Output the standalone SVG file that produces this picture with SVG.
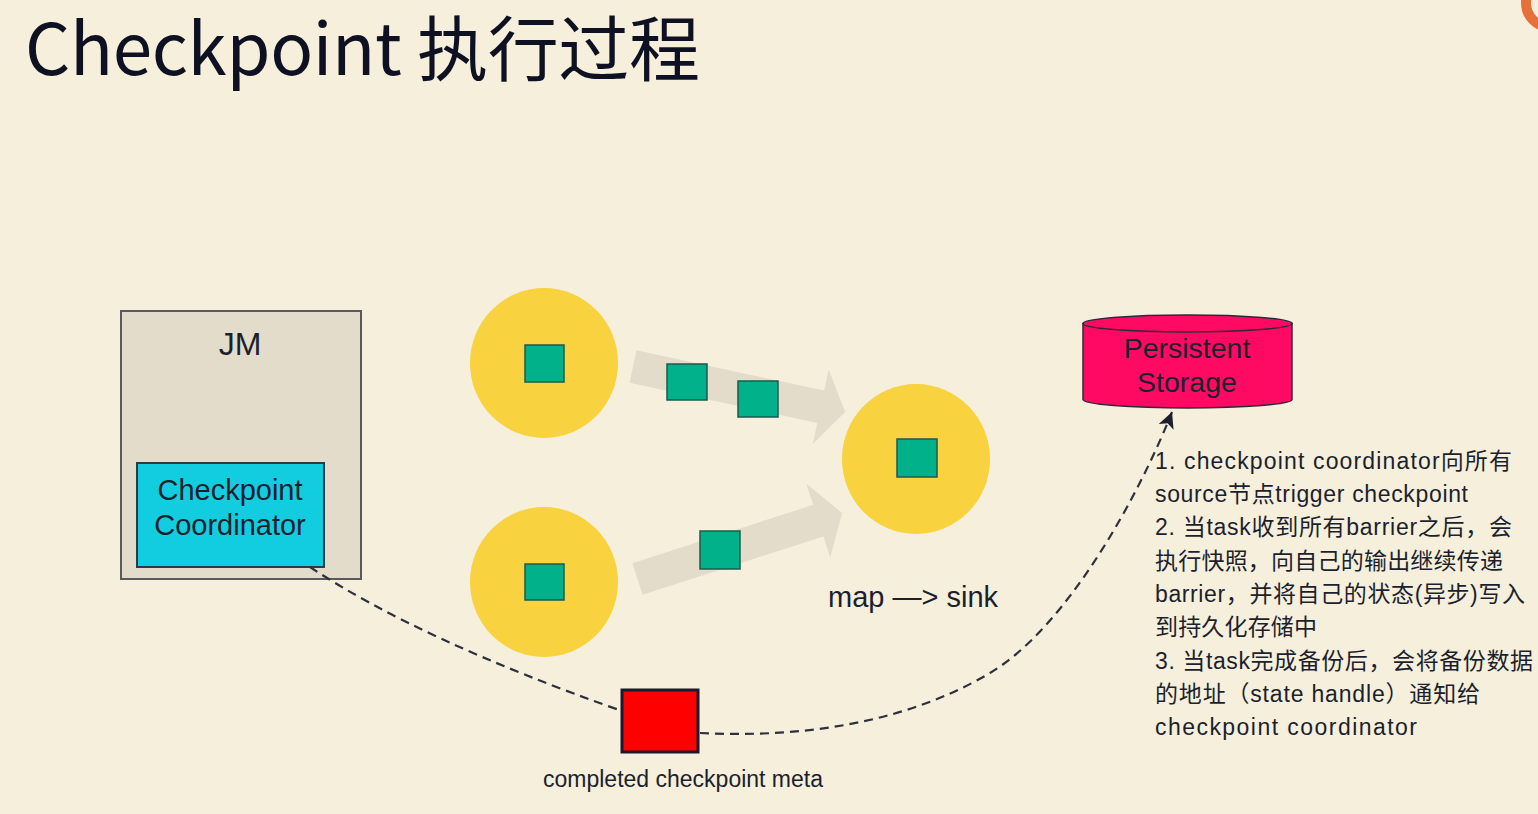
<svg xmlns="http://www.w3.org/2000/svg" width="1538" height="814" viewBox="0 0 1538 814">
  <style>
    .sans { font-family: "Liberation Sans", "Noto Sans CJK SC", sans-serif; fill: #1c1f2e; }
    .title { font-family: "Noto Sans CJK SC", "Noto Sans", sans-serif; fill: #0d1121; font-size: 71px; }
    .task { fill: #f8d23f; }
    .rec { fill: #00b18a; stroke: #1d5a4c; stroke-width: 1.5; }
    .flow { fill: #e3dccb; }
    .link { fill: none; stroke: #2e313c; stroke-width: 2.2; stroke-dasharray: 9 6; }
    .note { font-size: 23px; }
  </style>
  <defs>
    <marker id="head" markerUnits="userSpaceOnUse" markerWidth="18" markerHeight="16" refX="16" refY="8" orient="auto">
      <path d="M0,0 L16,8 L0,16 L4,8 Z" fill="#1c1f2e"/>
    </marker>
  </defs>

  <rect x="0" y="0" width="1538" height="814" fill="#f5efdc"/>

  <!-- corner ornament -->
  <circle cx="1550" cy="3" r="24" fill="none" stroke="#e6703a" stroke-width="10"/>

  <text class="title" x="25" y="75" textLength="675">Checkpoint 执行过程</text>

  <!-- job manager -->
  <g id="jm">
    <rect x="121" y="311" width="240" height="268" fill="#e3dccb" stroke="#585a60" stroke-width="2"/>
    <text class="sans" x="240" y="355" font-size="32" text-anchor="middle">JM</text>
  </g>
  <g id="coordinator">
    <rect x="137" y="463" width="187" height="104" fill="#12cde0" stroke="#2d3a4a" stroke-width="2"/>
    <text class="sans" x="230" y="500" font-size="29" text-anchor="middle">Checkpoint</text>
    <text class="sans" x="230" y="535" font-size="29" text-anchor="middle">Coordinator</text>
  </g>

  <!-- data flow between tasks -->
  <g id="flows">
    <polygon class="flow" transform="translate(633,366.5) rotate(12.1)" points="0,-16.5 192,-16.5 192,-38 217,0 192,38 192,16.5 0,16.5"/>
    <polygon class="flow" transform="translate(637.5,579) rotate(-17.9)" points="0,-16.6 190,-16.6 190,-38.8 215,0 190,38.8 190,16.6 0,16.6"/>
  </g>

  <g id="source-top">
    <ellipse class="task" cx="544" cy="363" rx="74" ry="75"/>
    <rect class="rec" x="525" y="345" width="39" height="37"/>
  </g>
  <g id="source-bottom">
    <ellipse class="task" cx="544" cy="582" rx="74" ry="75"/>
    <rect class="rec" x="525" y="564" width="39" height="36"/>
  </g>
  <g id="map-sink">
    <ellipse class="task" cx="916" cy="459" rx="74" ry="75"/>
    <rect class="rec" x="897" y="439" width="40" height="38"/>
    <text class="sans" x="828" y="607" font-size="29">map —&gt; sink</text>
  </g>

  <g id="barriers">
    <rect class="rec" x="667" y="364" width="40" height="36"/>
    <rect class="rec" x="738" y="381" width="40" height="36"/>
    <rect class="rec" x="700" y="531" width="40" height="38"/>
  </g>

  <g id="storage">
    <path d="M1083,323.5 L1083,399.5 A104.5,8.5 0 0 0 1292,399.5 L1292,323.5 Z" fill="#fe0a63" stroke="#2a2a3a" stroke-width="1.5"/>
    <ellipse cx="1187.5" cy="323.5" rx="104.5" ry="8.5" fill="#fe0a63" stroke="#2a2a3a" stroke-width="1.5"/>
    <text class="sans" x="1187" y="358" font-size="28.5" text-anchor="middle">Persistent</text>
    <text class="sans" x="1187" y="392" font-size="28.5" text-anchor="middle">Storage</text>
  </g>

  <!-- connectors -->
  <g id="connectors">
    <path class="link" d="M310,567 Q420,640 622,711"/>
    <path class="link" d="M700,733 C800,738 904,724 990,673 C1067,627 1138.5,496.6 1172,412" marker-end="url(#head)"/>
  </g>

  <g id="meta">
    <rect x="622" y="690" width="76" height="62" fill="#ff0000" stroke="#1a1a2e" stroke-width="3"/>
    <text class="sans" x="683" y="787" font-size="23" text-anchor="middle">completed checkpoint meta</text>
  </g>

  <g id="steps" class="sans note">
    <text x="1155" y="469" textLength="357">1. checkpoint coordinator向所有</text>
    <text x="1155" y="502" textLength="313">source节点trigger checkpoint</text>
    <text x="1155" y="535" textLength="357">2. 当task收到所有barrier之后，会</text>
    <text x="1155" y="569" textLength="348">执行快照，向自己的输出继续传递</text>
    <text x="1155" y="602" textLength="370">barrier，并将自己的状态(异步)写入</text>
    <text x="1155" y="635" textLength="162">到持久化存储中</text>
    <text x="1155" y="669" textLength="378">3. 当task完成备份后，会将备份数据</text>
    <text x="1155" y="702" textLength="325">的地址（state handle）通知给</text>
    <text x="1155" y="735" textLength="262">checkpoint coordinator</text>
  </g>
</svg>
